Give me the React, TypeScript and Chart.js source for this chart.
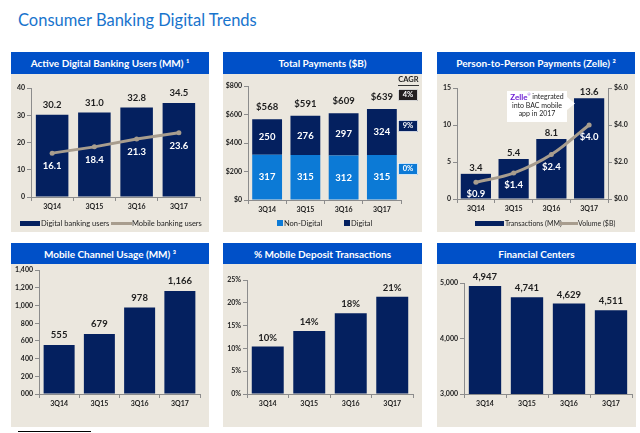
import React, { useEffect, useRef } from "react";
import { Chart, registerables } from "chart.js";

Chart.register(...registerables);

// ---------- data ----------
const quarters = ["3Q14", "3Q15", "3Q16", "3Q17"];
const digitalUsers = [30.2, 31.0, 32.8, 34.5];
const mobileUsers = [16.1, 18.4, 21.3, 23.6];
const nonDigitalPayments = [317, 315, 312, 315];
const digitalPayments = [250, 276, 297, 324];
const totalPayments = [568, 591, 609, 639];
const cagrLabels = ["4%", "9%", "0%"];
const zelleTransactions = [3.4, 5.4, 8.1, 13.6];
const zelleVolume = [0.9, 1.4, 2.4, 4.0];
const mobileUsage = [555, 679, 978, 1166];
const mobileDeposit = [10.4, 13.8, 17.7, 21.3];
const mobileDepositLabels = ["10%", "14%", "18%", "21%"];
const financialCenters = [4947, 4741, 4629, 4511];
const panelTitles = [
  "Active Digital Banking Users (MM) \u00B9",
  "Total Payments ($B)",
  "Person-to-Person Payments (Zelle) \u00B2",
  "Mobile Channel Usage (MM) \u00B3",
  "% Mobile Deposit Transactions",
  "Financial Centers",
];
const pageTitle = "Consumer Banking Digital Trends";

// ---------- styles ----------
const FONT = "Lato, 'Open Sans', sans-serif";
const NAVY = "#04205F";
const LIGHT = "#0C7AD6";
const HEADER = "#0050C8";
const BODY = "#EBE7DE";
const LINE = "#A89D8E";
const TXT = "#1E1E1E";
const AXIS = "#8C8C8C";
const TICK_FONT = { family: FONT, size: 7, weight: "bold" as const };
const LABEL_SIZE = 9.5;
const LEGEND_SIZE = 7.5;

const panels = [
  { left: 11, top: 52, width: 198, headerH: 22, bodyH: 158 },
  { left: 223, top: 52, width: 199, headerH: 22, bodyH: 158 },
  { left: 437, top: 52, width: 198, headerH: 22, bodyH: 158 },
  { left: 11, top: 243, width: 198, headerH: 21, bodyH: 163 },
  { left: 223, top: 243, width: 199, headerH: 21, bodyH: 163 },
  { left: 437, top: 243, width: 199, headerH: 21, bodyH: 163 },
];

function text(ctx: any, s: string, x: number, y: number, color: string, size: number, weight = "bold", align = "center") {
  ctx.save();
  ctx.font = `${weight} ${size}px ${FONT}`;
  ctx.fillStyle = color;
  ctx.textAlign = align;
  ctx.textBaseline = "middle";
  ctx.fillText(s, x, y);
  ctx.restore();
}

function xAxis(h: number) {
  return {
    type: "category",
    offset: true,
    grid: { display: true, drawOnChartArea: false, drawTicks: true, tickLength: 4, color: AXIS, offset: true },
    border: { display: true, color: AXIS, width: 1 },
    ticks: { color: TXT, font: TICK_FONT, padding: 2, maxRotation: 0, autoSkip: false },
    afterFit: (s: any) => { s.height = h; },
  };
}

function yAxis(min: number, max: number, step: number, w: number, cb: (v: number) => string, position = "left") {
  return {
    type: "linear",
    position,
    min,
    max,
    grid: { display: true, drawOnChartArea: false, drawTicks: true, tickLength: 4, color: AXIS },
    border: { display: true, color: AXIS, width: 1 },
    ticks: { stepSize: step, color: TXT, font: TICK_FONT, padding: 2, callback: (v: any) => cb(Number(v)) },
    afterFit: (s: any) => { s.width = w; },
  };
}

function baseOptions(pad: number[], scales: any) {
  return {
    responsive: false,
    animation: false,
    events: [],
    layout: { autoPadding: false, padding: { left: pad[0], top: pad[1], right: pad[2], bottom: pad[3] } },
    plugins: { legend: { display: false }, tooltip: { enabled: false }, title: { display: false } },
    scales,
  };
}

function legendRect(ctx: any, x: number, y: number, w: number, h: number, color: string) {
  ctx.save();
  ctx.fillStyle = color;
  ctx.fillRect(x, y, w, h);
  ctx.restore();
}
function legendLine(ctx: any, x1: number, x2: number, y: number, color: string) {
  ctx.save();
  ctx.strokeStyle = color;
  ctx.lineWidth = 3;
  ctx.beginPath();
  ctx.moveTo(x1, y);
  ctx.lineTo(x2, y);
  ctx.stroke();
  ctx.restore();
}

const fmt = (v: number) => v.toLocaleString("en-US");

const builders: (() => any)[] = [
  // 1. Active Digital Banking Users
  () => ({
    type: "bar",
    data: {
      labels: quarters,
      datasets: [
        { type: "bar", label: "Digital banking users", data: digitalUsers, backgroundColor: NAVY, barPercentage: 0.77, categoryPercentage: 1, order: 2 },
        { type: "line", label: "Mobile banking users", data: mobileUsers, borderColor: LINE, backgroundColor: LINE, borderWidth: 3, pointRadius: 2.5, pointBackgroundColor: LINE, pointBorderWidth: 0, order: 1 },
      ],
    },
    options: baseOptions([0, 14, 9, 0], { x: xAxis(35), y: yAxis(0, 40, 10, 20, (v) => String(v)) }),
    plugins: [{
      id: "p1labels",
      afterDraw(chart: any) {
        const ctx = chart.ctx;
        chart.getDatasetMeta(0).data.forEach((b: any, i: number) => text(ctx, digitalUsers[i].toFixed(1), b.x, b.y - 10, TXT, LABEL_SIZE));
        chart.getDatasetMeta(1).data.forEach((p: any, i: number) => text(ctx, mobileUsers[i].toFixed(1), p.x, p.y + 13, "#fff", LABEL_SIZE));
        legendRect(ctx, 9, 147, 20, 5, NAVY);
        text(ctx, "Digital banking users", 30, 149.5, TXT, LEGEND_SIZE, "normal", "left");
        legendLine(ctx, 100, 121, 149.5, LINE);
        text(ctx, "Mobile banking users", 121, 149.5, TXT, LEGEND_SIZE, "normal", "left");
      },
    }],
  }),
  // 2. Total Payments
  () => ({
    type: "bar",
    data: {
      labels: quarters,
      datasets: [
        { label: "Non-Digital", data: nonDigitalPayments, backgroundColor: LIGHT, barPercentage: 0.78, categoryPercentage: 1 },
        { label: "Digital", data: digitalPayments, backgroundColor: NAVY, barPercentage: 0.78, categoryPercentage: 1 },
      ],
    },
    options: baseOptions([0, 12, 21, 0], {
      x: { ...xAxis(32), stacked: true },
      y: { ...yAxis(0, 800, 200, 25, (v) => "$" + v), stacked: true },
    }),
    plugins: [{
      id: "p2labels",
      afterDraw(chart: any) {
        const ctx = chart.ctx;
        chart.getDatasetMeta(0).data.forEach((b: any, i: number) => text(ctx, String(nonDigitalPayments[i]), b.x, (b.y + b.base) / 2, "#fff", LABEL_SIZE));
        chart.getDatasetMeta(1).data.forEach((b: any, i: number) => {
          text(ctx, String(digitalPayments[i]), b.x, (b.y + b.base) / 2, "#fff", LABEL_SIZE);
          text(ctx, "$" + totalPayments[i], b.x, b.y - 12, TXT, LABEL_SIZE);
        });
        // CAGR column
        text(ctx, "CAGR", 185.5, 6, TXT, 7.5);
        ctx.save();
        ctx.strokeStyle = "#333";
        ctx.lineWidth = 1;
        ctx.beginPath();
        ctx.moveTo(175, 11.5);
        ctx.lineTo(196, 11.5);
        ctx.stroke();
        ctx.restore();
        const boxes = [
          { y: 15, fill: "#231F20" },
          { y: 46, fill: NAVY },
          { y: 89, fill: LIGHT },
        ];
        boxes.forEach((bx, i) => {
          ctx.save();
          ctx.fillStyle = bx.fill;
          ctx.fillRect(175, bx.y, 20, 12);
          ctx.strokeStyle = "#ffffff";
          ctx.lineWidth = 0.8;
          ctx.strokeRect(175.5, bx.y + 0.5, 19, 11);
          ctx.restore();
          text(ctx, cagrLabels[i], 185, bx.y + 6, "#fff", 7.5);
        });
        legendRect(ctx, 54, 146, 6, 6, LIGHT);
        text(ctx, "Non-Digital", 61, 149.5, TXT, LEGEND_SIZE, "normal", "left");
        legendRect(ctx, 121, 146, 6, 6, NAVY);
        text(ctx, "Digital", 128, 149.5, TXT, LEGEND_SIZE, "normal", "left");
      },
    }],
  }),
  // 3. Person-to-Person Payments (Zelle)
  () => ({
    type: "bar",
    data: {
      labels: quarters,
      datasets: [
        { type: "bar", label: "Transactions (MM)", data: zelleTransactions, backgroundColor: NAVY, barPercentage: 0.8, categoryPercentage: 1, yAxisID: "y", order: 2 },
        { type: "line", label: "Volume ($B)", data: zelleVolume, borderColor: LINE, backgroundColor: LINE, borderWidth: 3, pointRadius: 2.5, pointBackgroundColor: LINE, pointBorderWidth: 0, tension: 0.35, yAxisID: "y1", order: 1 },
      ],
    },
    options: baseOptions([0, 14, 0, 0], {
      x: xAxis(33),
      y: yAxis(0, 15, 5, 20, (v) => String(v)),
      y1: yAxis(0, 6, 2, 27, (v) => "$" + v.toFixed(1), "right"),
    }),
    plugins: [{
      id: "p3labels",
      afterDraw(chart: any) {
        const ctx = chart.ctx;
        chart.getDatasetMeta(0).data.forEach((b: any, i: number) => text(ctx, zelleTransactions[i].toFixed(1), b.x, b.y - 6, TXT, LABEL_SIZE));
        chart.getDatasetMeta(1).data.forEach((p: any, i: number) => text(ctx, "$" + zelleVolume[i].toFixed(1), p.x, p.y + 12, "#fff", LABEL_SIZE));
        // annotation callout
        ctx.save();
        ctx.fillStyle = "#fff";
        ctx.beginPath();
        ctx.moveTo(70, 17);
        ctx.lineTo(130, 17);
        ctx.lineTo(130, 23);
        ctx.lineTo(138, 29.5);
        ctx.lineTo(130, 36);
        ctx.lineTo(130, 48);
        ctx.lineTo(70, 48);
        ctx.closePath();
        ctx.fill();
        ctx.font = `bold 8px ${FONT}`;
        const w1 = ctx.measureText("Zelle").width;
        ctx.font = `normal 7px ${FONT}`;
        const w2 = ctx.measureText(" integrated").width;
        const sx = 100 - (w1 + 3 + w2) / 2;
        ctx.restore();
        text(ctx, "Zelle", sx, 23, "#6D1ED4", 8, "bold", "left");
        text(ctx, "\u00AE", sx + w1, 21, "#6D1ED4", 3.5, "normal", "left");
        text(ctx, " integrated", sx + w1 + 3, 23, TXT, 7, "normal", "left");
        text(ctx, "into BAC mobile", 100, 31.5, TXT, 7, "normal");
        text(ctx, "app in 2017", 100, 40, TXT, 7, "normal");
        // legend
        legendRect(ctx, 38, 147, 29, 5, NAVY);
        text(ctx, "Transactions (MM)", 68, 149.5, TXT, 7, "normal", "left");
        legendLine(ctx, 123, 141, 149.5, LINE);
        text(ctx, "Volume ($B)", 141, 149.5, TXT, 7, "normal", "left");
      },
    }],
  }),
  // 4. Mobile Channel Usage
  () => ({
    type: "bar",
    data: { labels: quarters, datasets: [{ label: "Mobile Channel Usage", data: mobileUsage, backgroundColor: NAVY, barPercentage: 0.77, categoryPercentage: 1 }] },
    options: baseOptions([0, 6, 9, 0], { x: xAxis(33), y: yAxis(0, 1400, 200, 28, (v) => (v === 0 ? "000" : fmt(v))) }),
    plugins: [{
      id: "p4labels",
      afterDraw(chart: any) {
        chart.getDatasetMeta(0).data.forEach((b: any, i: number) => text(chart.ctx, fmt(mobileUsage[i]), b.x, b.y - 10, TXT, LABEL_SIZE));
      },
    }],
  }),
  // 5. % Mobile Deposit Transactions
  () => ({
    type: "bar",
    data: { labels: quarters, datasets: [{ label: "% Mobile Deposit Transactions", data: mobileDeposit, backgroundColor: NAVY, barPercentage: 0.77, categoryPercentage: 1 }] },
    options: baseOptions([0, 16, 9, 0], { x: xAxis(33), y: yAxis(0, 25, 5, 24, (v) => v + "%") }),
    plugins: [{
      id: "p5labels",
      afterDraw(chart: any) {
        chart.getDatasetMeta(0).data.forEach((b: any, i: number) => text(chart.ctx, mobileDepositLabels[i], b.x, b.y - 9, TXT, LABEL_SIZE));
      },
    }],
  }),
  // 6. Financial Centers
  () => ({
    type: "bar",
    data: { labels: quarters, datasets: [{ label: "Financial Centers", data: financialCenters, backgroundColor: NAVY, barPercentage: 0.77, categoryPercentage: 1 }] },
    options: baseOptions([0, 19, 4, 0], { x: xAxis(33), y: yAxis(3000, 5000, 1000, 27, (v) => fmt(v)) }),
    plugins: [{
      id: "p6labels",
      afterDraw(chart: any) {
        chart.getDatasetMeta(0).data.forEach((b: any, i: number) => text(chart.ctx, fmt(financialCenters[i]), b.x, b.y - 9, TXT, LABEL_SIZE));
      },
    }],
  }),
];

export default function App() {
  const refs = useRef<(HTMLCanvasElement | null)[]>([]);
  useEffect(() => {
    const charts = builders.map((b, i) => new Chart(refs.current[i] as HTMLCanvasElement, b()));
    return () => charts.forEach((c) => c.destroy());
  }, []);
  return (
    <div style={{ position: "absolute", left: 0, top: 0, width: 640, height: 433, background: "#fff", overflow: "hidden", fontFamily: FONT }}>
      <div style={{ position: "absolute", left: 18, top: 9, fontSize: 16.5, lineHeight: "22px", color: "#1874CD", whiteSpace: "nowrap" }}>{pageTitle}</div>
      {panels.map((p, i) => (
        <React.Fragment key={i}>
          <div
            style={{
              position: "absolute", left: p.left, top: p.top, width: p.width, height: p.headerH, background: HEADER,
              color: "#fff", fontWeight: 700, fontSize: 10, display: "flex", alignItems: "center", justifyContent: "center", whiteSpace: "nowrap",
            }}
          >
            {panelTitles[i]}
          </div>
          <div style={{ position: "absolute", left: p.left, top: p.top + p.headerH, width: p.width, height: p.bodyH, background: BODY }}>
            <canvas ref={(el) => { refs.current[i] = el; }} width={p.width} height={p.bodyH} style={{ display: "block", width: p.width, height: p.bodyH }} />
          </div>
        </React.Fragment>
      ))}
      <div style={{ position: "absolute", left: 18, top: 431, width: 73, height: 1, background: "#000" }} />
    </div>
  );
}
